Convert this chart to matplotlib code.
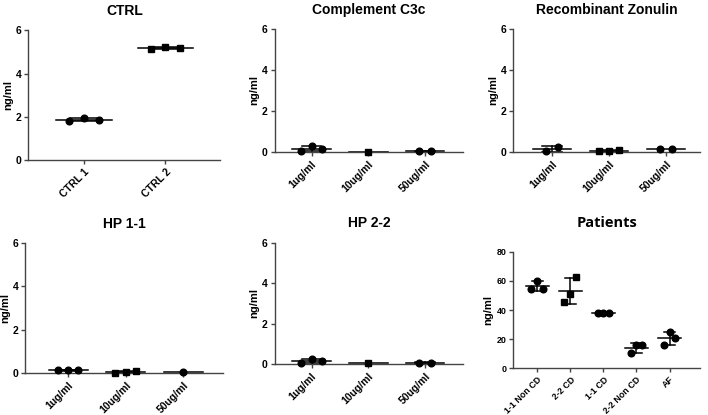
import numpy as np
import matplotlib.pyplot as plt

plt.rcParams['font.family'] = ['Liberation Sans', 'DejaVu Sans']

# data (ng/ml)
ctrl_labels = ['CTRL 1', 'CTRL 2']
ctrl_values = [[1.80, 1.95, 1.87], [5.15, 5.24, 5.20]]

conc_labels = ['1ug/ml', '10ug/ml', '50ug/ml']
c3c_values = [[0.05, 0.28, 0.12], [0.01], [0.02, 0.03]]
zonulin_values = [[0.05, 0.25], [0.02, 0.05, 0.10], [0.15, 0.15]]
hp11_values = [[0.12, 0.15, 0.13], [0.00, 0.05, 0.10], [0.03]]
hp22_values = [[0.03, 0.25, 0.15], [0.03], [0.05, 0.07]]

patient_labels = ['1-1 Non CD', '2-2 CD', '1-1 CD', '2-2 Non CD', 'AF']
patient_values = [[54.5, 60.2, 54.5], [45.7, 50.8, 63.0], [37.7, 37.7, 37.7],
                  [10.1, 15.9, 15.9], [15.9, 25.0, 20.4]]

markers = ['o', 's', 'o', 'o', 'o']
jitter = {1: [0.0], 2: [-0.1, 0.1], 3: [-0.18, 0.0, 0.18]}


def dot_plot(ax, labels, values, title, ylim, yticks, xlim, title_pad=8,
             title_font=None, title_size=10, tick_size=7.5):
    for i, vals in enumerate(values):
        vals = np.array(vals)
        m = vals.mean()
        sd = vals.std(ddof=1) if len(vals) > 1 else 0.0
        ax.plot([i - 0.34, i + 0.34], [m, m], color='black', lw=1.1,
                zorder=2, clip_on=False)
        if sd > 0:
            ax.plot([i, i], [m - sd, m + sd], color='black', lw=1.1,
                    zorder=2, clip_on=False)
            for e in (m - sd, m + sd):
                ax.plot([i - 0.17, i + 0.17], [e, e], color='black', lw=1.1,
                        zorder=2, clip_on=False)
        ax.plot(i + np.array(jitter[len(vals)]), vals, linestyle='none',
                marker=markers[i], color='black', markersize=4.8, zorder=3,
                clip_on=False)
    ax.set_xlim(*xlim)
    ax.set_ylim(*ylim)
    ax.set_yticks(yticks)
    ax.set_xticks(range(len(labels)))
    ax.set_xticklabels(labels, rotation=45, ha='right',
                       rotation_mode='anchor', fontsize=tick_size,
                       fontweight='bold')
    for t in ax.get_yticklabels():
        t.set_fontsize(tick_size)
        t.set_fontweight('bold')
    ax.set_ylabel('ng/ml', fontsize=8, fontweight='bold', labelpad=2)
    for s in ['top', 'right']:
        ax.spines[s].set_visible(False)
    for s in ['left', 'bottom']:
        ax.spines[s].set_color('#444444')
        ax.spines[s].set_linewidth(1.0)
    ax.tick_params(direction='out', length=3, width=1.0, color='#444444',
                   pad=2)
    if title_font:
        ax.set_title(title, fontsize=title_size, fontweight='bold',
                     pad=title_pad, family=title_font)
    else:
        ax.set_title(title, fontsize=title_size, fontweight='bold',
                     pad=title_pad)


fig = plt.figure(figsize=(7.08, 4.15), dpi=100)

ax1 = fig.add_axes([0.040, 0.614, 0.271, 0.313])
dot_plot(ax1, ctrl_labels, ctrl_values, 'CTRL', (0, 6), [0, 2, 4, 6],
         (-0.68, 1.67), title_pad=11)

ax2 = fig.add_axes([0.388, 0.634, 0.266, 0.296])
dot_plot(ax2, conc_labels, c3c_values, 'Complement C3c', (0, 6),
         [0, 2, 4, 6], (-0.65, 2.67), title_pad=11)

ax3 = fig.add_axes([0.725, 0.634, 0.264, 0.296])
dot_plot(ax3, conc_labels, zonulin_values, 'Recombinant Zonulin', (0, 6),
         [0, 2, 4, 6], (-0.68, 2.6), title_pad=11)

ax4 = fig.add_axes([0.036, 0.101, 0.279, 0.313])
dot_plot(ax4, conc_labels, hp11_values, 'HP 1-1', (0, 6), [0, 2, 4, 6],
         (-0.74, 2.69), title_pad=11)

ax5 = fig.add_axes([0.388, 0.123, 0.266, 0.292])
dot_plot(ax5, conc_labels, hp22_values, 'HP 2-2', (0, 6), [0, 2, 4, 6],
         (-0.65, 2.67), title_pad=11)

ax6 = fig.add_axes([0.725, 0.113, 0.264, 0.28])
dot_plot(ax6, patient_labels, patient_values, 'Patients', (0, 80),
         [0, 20, 40, 60, 80], (-0.73, 4.93), title_pad=18,
         title_font='Open Sans', title_size=10.5, tick_size=6.4)

fig.savefig('out.png', dpi=100)
